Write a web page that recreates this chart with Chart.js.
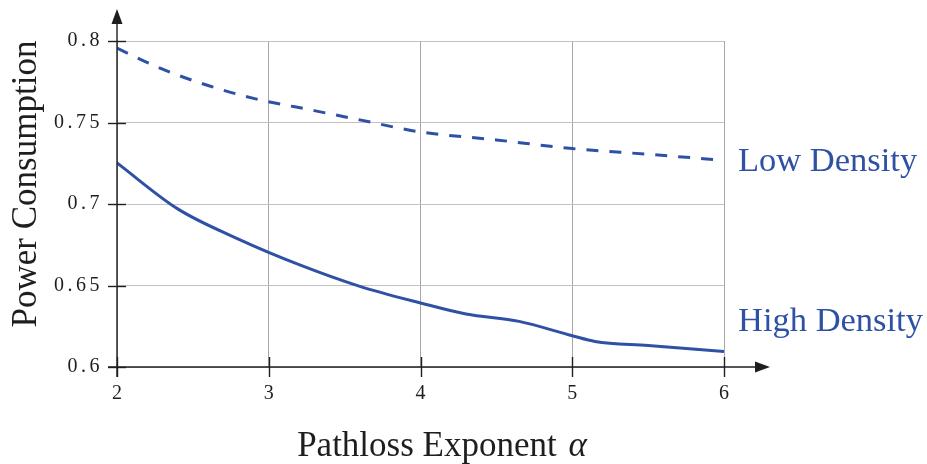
<!DOCTYPE html>
<html>
<head>
<meta charset="utf-8">
<title>Power Consumption vs Pathloss Exponent</title>
<script src="https://cdn.jsdelivr.net/npm/chart.js@4/dist/chart.umd.min.js"></script>
<style>
  html, body { margin: 0; padding: 0; background: #ffffff; }
  canvas { display: block; }
</style>
</head>
<body>
<canvas id="chart" width="927" height="464"></canvas>
<script>
// Pathloss exponent samples and power consumption for each density scenario
const alphaLow  = [2, 2.3, 2.6, 2.9, 3.3, 3.6, 4, 4.5, 5, 5.5, 6];
const powerLow  = [0.7956, 0.7827, 0.7727, 0.7648, 0.7573, 0.7516, 0.7442, 0.7393, 0.7340, 0.7305, 0.7268];

const alphaHigh = [2, 2.4, 2.8, 3.2, 3.6, 4, 4.3, 4.65, 5, 5.15, 5.5, 6];
const powerHigh = [0.7252, 0.6970, 0.6785, 0.6628, 0.6495, 0.6393, 0.6325, 0.6280, 0.6192, 0.6157, 0.6132, 0.6095];

const seriesNames = ['Low Density', 'High Density'];
const xTickLabels = ['2', '3', '4', '5', '6'];
const yTickLabels = ['0.6', '0.65', '0.7', '0.75', '0.8'];

const xTitle = 'Pathloss Exponent ';
const xTitleSymbol = '\u03B1';
const yTitle = 'Power Consumption';

const BLUE = '#2f51a5';
const INK = '#1e1e1e';
const SERIF = '"Liberation Serif", "Times New Roman", serif';
const TICK_SPACING = 3.5;

const toPoints = (xs, ys) => xs.map((v, i) => ({ x: v, y: ys[i] }));

// Axis lines with arrow heads, tick marks, axis titles and inline series names
const axisDecor = {
  id: 'axisDecor',
  beforeDraw(chart) {
    chart.ctx.letterSpacing = TICK_SPACING + 'px';
  },
  afterDatasetsDraw(chart) {
    const { ctx, chartArea: a, scales: { x, y } } = chart;
    ctx.save();
    ctx.letterSpacing = '0px';
    ctx.strokeStyle = INK;
    ctx.fillStyle = INK;
    ctx.lineWidth = 1.4;

    // vertical axis with arrow
    ctx.beginPath();
    ctx.moveTo(a.left, a.bottom + 10);
    ctx.lineTo(a.left, a.top - 20);
    ctx.stroke();
    ctx.beginPath();
    ctx.moveTo(a.left, a.top - 32);
    ctx.lineTo(a.left - 5.5, a.top - 17);
    ctx.lineTo(a.left + 5.5, a.top - 17);
    ctx.closePath();
    ctx.fill();

    // horizontal axis with arrow
    ctx.beginPath();
    ctx.moveTo(a.left - 9, a.bottom);
    ctx.lineTo(a.right + 34, a.bottom);
    ctx.stroke();
    ctx.beginPath();
    ctx.moveTo(a.right + 46, a.bottom);
    ctx.lineTo(a.right + 31, a.bottom - 5.5);
    ctx.lineTo(a.right + 31, a.bottom + 5.5);
    ctx.closePath();
    ctx.fill();

    // tick marks crossing the axes
    y.ticks.forEach(t => {
      const py = Math.round(y.getPixelForValue(t.value)) + 0.5;
      ctx.beginPath();
      ctx.moveTo(a.left - 9, py);
      ctx.lineTo(a.left + 9, py);
      ctx.stroke();
    });
    x.ticks.forEach(t => {
      const px = Math.round(x.getPixelForValue(t.value)) + 0.5;
      ctx.beginPath();
      ctx.moveTo(px, a.bottom - 10);
      ctx.lineTo(px, a.bottom + 10);
      ctx.stroke();
    });

    // y axis title
    ctx.fillStyle = INK;
    ctx.font = '35px ' + SERIF;
    ctx.textAlign = 'center';
    ctx.textBaseline = 'alphabetic';
    ctx.save();
    ctx.translate(36, (a.top + a.bottom) / 2 - 20);
    ctx.rotate(-Math.PI / 2);
    ctx.fillText(yTitle, 0, 0);
    ctx.restore();

    // x axis title, with an italic alpha
    const regFont = '35px ' + SERIF;
    const itFont = 'italic 35px ' + SERIF;
    ctx.font = regFont;
    const w1 = ctx.measureText(xTitle).width;
    ctx.font = itFont;
    const w2 = ctx.measureText(xTitleSymbol).width;
    const startX = (a.left + a.right) / 2 + 22 - (w1 + w2) / 2;
    ctx.textAlign = 'left';
    ctx.font = regFont;
    ctx.fillText(xTitle, startX - 2, 456);
    ctx.font = itFont;
    ctx.fillText(xTitleSymbol, startX + w1 + 1, 456);

    // series names beside the line ends
    ctx.fillStyle = BLUE;
    ctx.font = '34.5px ' + SERIF;
    ctx.textAlign = 'left';
    ctx.textBaseline = 'middle';
    const lx = x.getPixelForValue(6) + 14;
    chart.data.datasets.forEach((ds, i) => {
      const last = ds.data[ds.data.length - 1];
      const py = y.getPixelForValue(last.y) + (i === 1 ? -30 : 1.5);
      ctx.fillText(seriesNames[i], lx, py);
    });

    ctx.restore();
  }
};

new Chart(document.getElementById('chart'), {
  type: 'line',
  data: {
    datasets: [
      {
        label: seriesNames[0],
        data: toPoints(alphaLow, powerLow),
        borderColor: BLUE,
        borderWidth: 3,
        borderDash: [12, 11],
        pointRadius: 0,
        cubicInterpolationMode: 'monotone',
        fill: false
      },
      {
        label: seriesNames[1],
        data: toPoints(alphaHigh, powerHigh),
        borderColor: BLUE,
        borderWidth: 3,
        pointRadius: 0,
        cubicInterpolationMode: 'monotone',
        fill: false
      }
    ]
  },
  options: {
    responsive: false,
    devicePixelRatio: 1,
    animation: false,
    layout: { padding: { top: 41, right: 203, left: 0, bottom: 0 } },
    plugins: {
      legend: { display: false },
      tooltip: { enabled: false },
      title: { display: false }
    },
    scales: {
      x: {
        type: 'linear',
        min: 2,
        max: 6,
        afterFit: s => { s.height = 97; },
        border: { display: false },
        grid: { color: '#a6a6a6', lineWidth: 1, drawTicks: false },
        ticks: {
          stepSize: 1,
          padding: 15,
          labelOffset: TICK_SPACING / 2,
          color: INK,
          font: { family: SERIF, size: 20 },
          callback: (v, i) => xTickLabels[i]
        }
      },
      y: {
        type: 'linear',
        min: 0.6,
        max: 0.8,
        afterFit: s => { s.width = 117; },
        border: { display: false },
        grid: { color: '#c2c2c2', lineWidth: 1, drawTicks: false },
        ticks: {
          stepSize: 0.05,
          padding: 14,
          color: INK,
          font: { family: SERIF, size: 20 },
          callback: (v, i) => yTickLabels[i]
        }
      }
    }
  },
  plugins: [axisDecor]
});
</script>
</body>
</html>
